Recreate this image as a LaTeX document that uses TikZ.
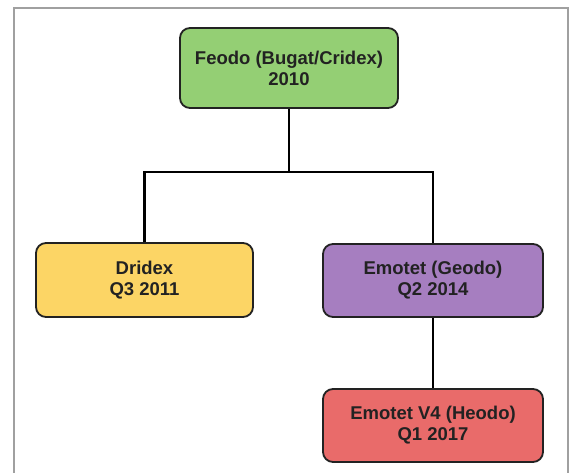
\documentclass[tikz,border=0pt]{standalone}
\usepackage{fontspec}
\setmainfont{Liberation Sans}
\definecolor{gfill}{HTML}{94CF74}
\definecolor{yfill}{HTML}{FCD565}
\definecolor{pfill}{HTML}{A67EC0}
\definecolor{rfill}{HTML}{E96B6A}
\definecolor{frame}{HTML}{A0A0A0}
\definecolor{ink}{HTML}{222222}
\begin{document}
\begin{tikzpicture}[x=1pt,y=-1pt,
  box/.style={draw=ink,line width=1.8pt,rounded corners=10pt,align=center,
    font=\fontsize{18.5}{21}\selectfont\bfseries,text=ink,inner sep=0pt},
  link/.style={draw=black,line width=2.6pt}]
\useasboundingbox (0,0) rectangle (571,473);
\fill[white] (0,0) rectangle (571,473);
\draw[frame,line width=2pt] (14,473) -- (14,8) -- (568,8) -- (568,473);
\node[box,fill=gfill,minimum width=218pt,minimum height=80pt] (feodo) at (289,68) {Feodo (Bugat/Cridex)\\2010};
\node[box,fill=yfill,minimum width=217pt,minimum height=74pt] (dridex) at (144.5,280) {Dridex\\Q3 2011};
\node[box,fill=pfill,minimum width=220pt,minimum height=73pt] (emotet) at (433,280.5) {Emotet (Geodo)\\Q2 2014};
\node[box,fill=rfill,minimum width=220pt,minimum height=73pt] (emv4) at (433,425.5) {Emotet V4 (Heodo)\\Q1 2017};
\coordinate (mid) at (289,172);
\draw[link] (feodo.south) -- (mid);
\draw[link] (dridex.north) |- (mid) -| (emotet.north);
\draw[link] (emotet.south) -- (emv4.north);
\end{tikzpicture}
\end{document}
